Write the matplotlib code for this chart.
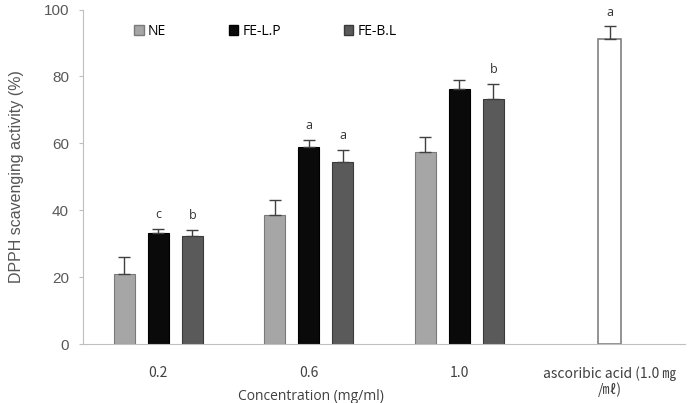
import matplotlib.pyplot as plt
import numpy as np
from matplotlib.patches import Patch

plt.rcParams['font.family'] = ['Open Sans', 'Noto Sans CJK KR', 'DejaVu Sans']

groups = ['0.2', '0.6', '1.0']
series = ['NE', 'FE-L.P', 'FE-B.L']
values = {'NE': [21.0, 38.5, 57.3],
          'FE-L.P': [33.2, 58.9, 76.2],
          'FE-B.L': [32.2, 54.4, 73.3]}
errors = {'NE': [5.0, 4.5, 4.5],
          'FE-L.P': [1.1, 2.0, 2.8],
          'FE-B.L': [1.9, 3.5, 4.3]}
letters = {'NE': ['', '', ''],
           'FE-L.P': ['c', 'a', ''],
           'FE-B.L': ['b', 'a', 'b']}
ref_label = 'ascoribic acid (1.0 \u338e\n/\u3396)'
ref_value = 91.3
ref_error = 3.9
ref_letter = 'a'

colors = {'NE': '#a6a6a6', 'FE-L.P': '#0a0a0a', 'FE-B.L': '#5a5a5a'}
edges = {'NE': '#7a7a7a', 'FE-L.P': '#000000', 'FE-B.L': '#3a3a3a'}

fig = plt.figure(figsize=(6.95, 4.03), dpi=100)
ax = fig.add_axes([83/695, 59/403, 602/695, 334.5/403])

x = np.arange(len(groups))
offs = [-0.226, 0.0, 0.226]
w = 0.14
for s, o in zip(series, offs):
    ax.bar(x + o, values[s], width=w, color=colors[s], edgecolor=edges[s], linewidth=0.8, zorder=2)
    ax.errorbar(x + o, values[s], yerr=[np.zeros(3), errors[s]], fmt='none',
                ecolor='#404040', elinewidth=1.0, capsize=4, capthick=1.0, zorder=3)
    for xi, v, e, t in zip(x + o, values[s], errors[s], letters[s]):
        if t:
            ax.text(xi, v + e + 2.5, t, ha='center', va='bottom', fontsize=9, color='#333333')

xr = len(groups)
ax.bar(xr, ref_value, width=0.153, color='white', edgecolor='#808080', linewidth=1.2, zorder=2)
ax.errorbar([xr], [ref_value], yerr=[[0], [ref_error]], fmt='none',
            ecolor='#404040', elinewidth=1.0, capsize=4, capthick=1.0, zorder=3)
ax.text(xr, ref_value + ref_error + 2.0, ref_letter, ha='center', va='bottom', fontsize=9, color='#333333')

ax.set_xlim(-0.5, 3.5)
ax.set_ylim(0, 100)
ax.set_yticks([0, 20, 40, 60, 80, 100])
ax.set_xticks(list(x) + [xr])
ax.set_xticklabels(groups + [ref_label], fontsize=10, color='#404040',
                   family=['Noto Sans CJK KR', 'DejaVu Sans'], linespacing=1.1)
ax.tick_params(axis='x', length=0, pad=16)
ax.tick_params(axis='y', length=3, direction='out', colors='#bfbfbf', labelcolor='#595959', pad=7)
for lab in ax.get_yticklabels():
    lab.set_fontsize(11)
    lab.set_family(['Liberation Sans'])
for sp in ['top', 'right']:
    ax.spines[sp].set_visible(False)
ax.spines['left'].set_color('#bfbfbf')
ax.spines['bottom'].set_color('#bfbfbf')
ax.set_ylabel('DPPH scavenging activity (%)', fontsize=11.5, color='#555555',
              family=['Liberation Sans'], labelpad=14)
fig.text(311/695, 1 - 396/403, 'Concentration (mg/ml)', ha='center', va='center', fontsize=10, color='#404040')

handles = [Patch(facecolor=colors[s], edgecolor=edges[s]) for s in series]
ax.legend(handles, series, loc='upper left', bbox_to_anchor=(0.064, 0.995), ncol=3, frameon=False,
          handlelength=0.7, handleheight=0.7, handletextpad=0.3, columnspacing=4.5, fontsize=10)

fig.savefig('out.png', dpi=100)
